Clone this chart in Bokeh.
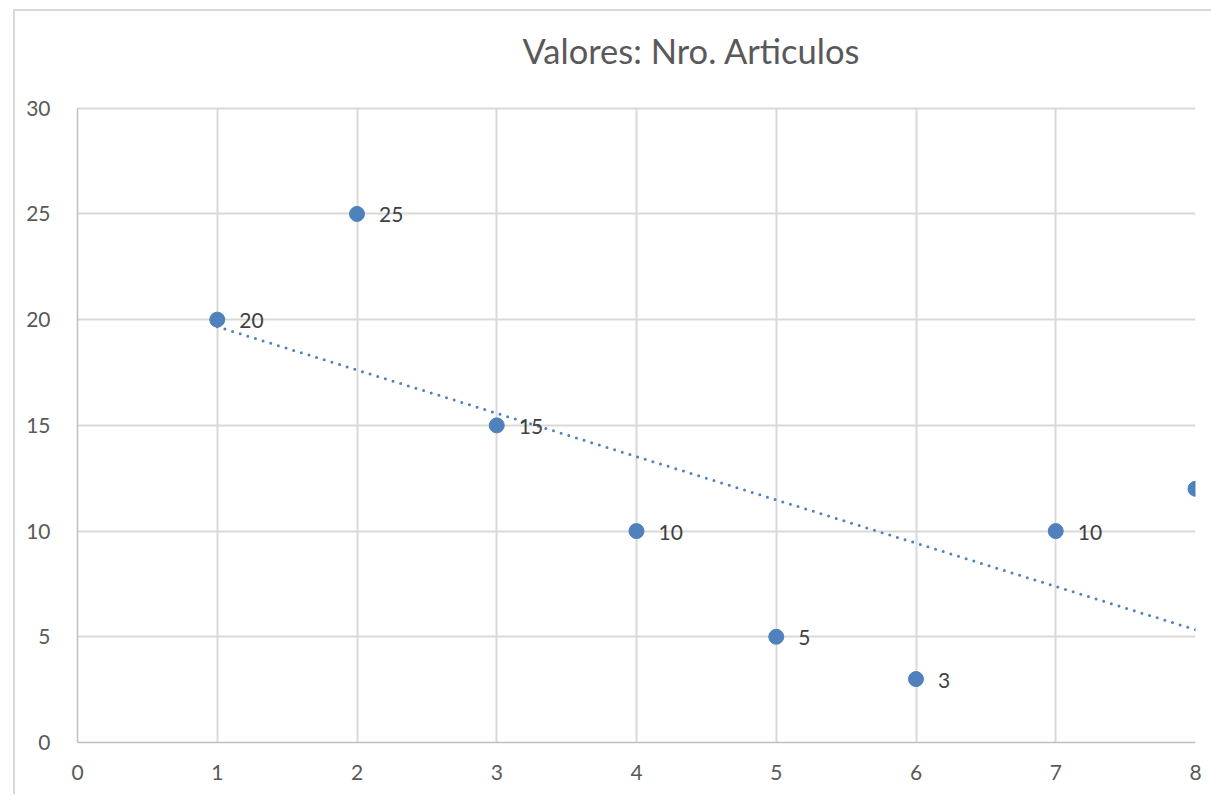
import numpy as np
from bokeh.plotting import figure
from bokeh.models import ColumnDataSource, FixedTicker, Range1d, Label, Grid
from bokeh.core.properties import value
from bokeh.embed import file_html
from bokeh.resources import INLINE

# Data
x_vals = [1, 2, 3, 4, 5, 6, 7, 8]
y_vals = [20, 25, 15, 10, 5, 3, 10, 12]
x_ticks = [0, 1, 2, 3, 4, 5, 6, 7, 8]
y_ticks = [0, 5, 10, 15, 20, 25, 30]
title_text = "Valores: Nro. Articulos"
n_visible_labels = 7  # the last point's label lies beyond the visible area

BLUE = "#4F81BD"
FONT = "Lato"

Y_MAX = 30
# the frame reaches above the value axis to hold the chart title
p = figure(width=1198, height=785, output_backend="svg", toolbar_location=None,
           x_range=Range1d(0, 8), y_range=Range1d(0, 34.15),
           min_border_left=62, min_border_top=9, min_border_right=18,
           min_border_bottom=54, title=None)
p.margin = (9, 0, 0, 13)
p.styles = {"border-left": "2px solid #d9d9d9", "border-top": "2px solid #d9d9d9",
            "box-sizing": "border-box"}
p.outline_line_color = None
p.background_fill_color = "white"
p.border_fill_color = "white"

for ax, ticks in ((p.xaxis, x_ticks), (p.yaxis, y_ticks)):
    ax.ticker = FixedTicker(ticks=ticks)
    ax.major_tick_line_color = None
    ax.minor_tick_line_color = None
    ax.axis_line_color = "#bfbfbf"
    ax.axis_line_width = 1.5
    ax.major_label_text_font = FONT
    ax.major_label_text_font_size = "21px"
    ax.major_label_text_color = "#595959"
p.yaxis.bounds = (0, Y_MAX)
p.xaxis.major_label_standoff = 16
p.yaxis.major_label_standoff = 21

p.ygrid.ticker = FixedTicker(ticks=y_ticks)
p.ygrid.grid_line_color = "#d9d9d9"
p.ygrid.grid_line_width = 2

if "cross_bounds" in Grid.properties():
    p.xgrid.ticker = FixedTicker(ticks=x_ticks)
    p.xgrid.cross_bounds = (0, Y_MAX)
    p.xgrid.grid_line_color = "#d9d9d9"
    p.xgrid.grid_line_width = 2
else:
    p.xgrid.grid_line_color = None
    p.segment(x0=x_ticks, y0=[0] * len(x_ticks), x1=x_ticks, y1=[Y_MAX] * len(x_ticks),
              line_color="#d9d9d9", line_width=2, level="underlay")

# Trendline (linear regression of the data)
coef = np.polyfit(x_vals, y_vals, 1)
tx = [min(x_vals), max(x_vals)]
ty = [coef[0] * v + coef[1] for v in tx]
p.line(tx, ty, line_color=BLUE, line_width=3, line_dash="0 8", line_cap="round")

src = ColumnDataSource(data=dict(x=x_vals, y=y_vals))
p.scatter("x", "y", source=src, size=15, fill_color=BLUE, line_color=BLUE)

lab_src = ColumnDataSource(data=dict(
    x=x_vals[:n_visible_labels], y=y_vals[:n_visible_labels],
    lab=[str(v) for v in y_vals[:n_visible_labels]]))
p.text("x", "y", text="lab", source=lab_src, x_offset=22, y_offset=1,
       text_font=value(FONT), text_font_size="21px", text_color="#404040",
       text_baseline="middle", text_align="left")

p.add_layout(Label(x=4.394, y=32.75, text=title_text, text_align="center",
                   text_baseline="middle", text_font=FONT, text_font_size="34.5px",
                   text_color="#595959"))

open("out.html", "w").write(file_html(p, INLINE))
